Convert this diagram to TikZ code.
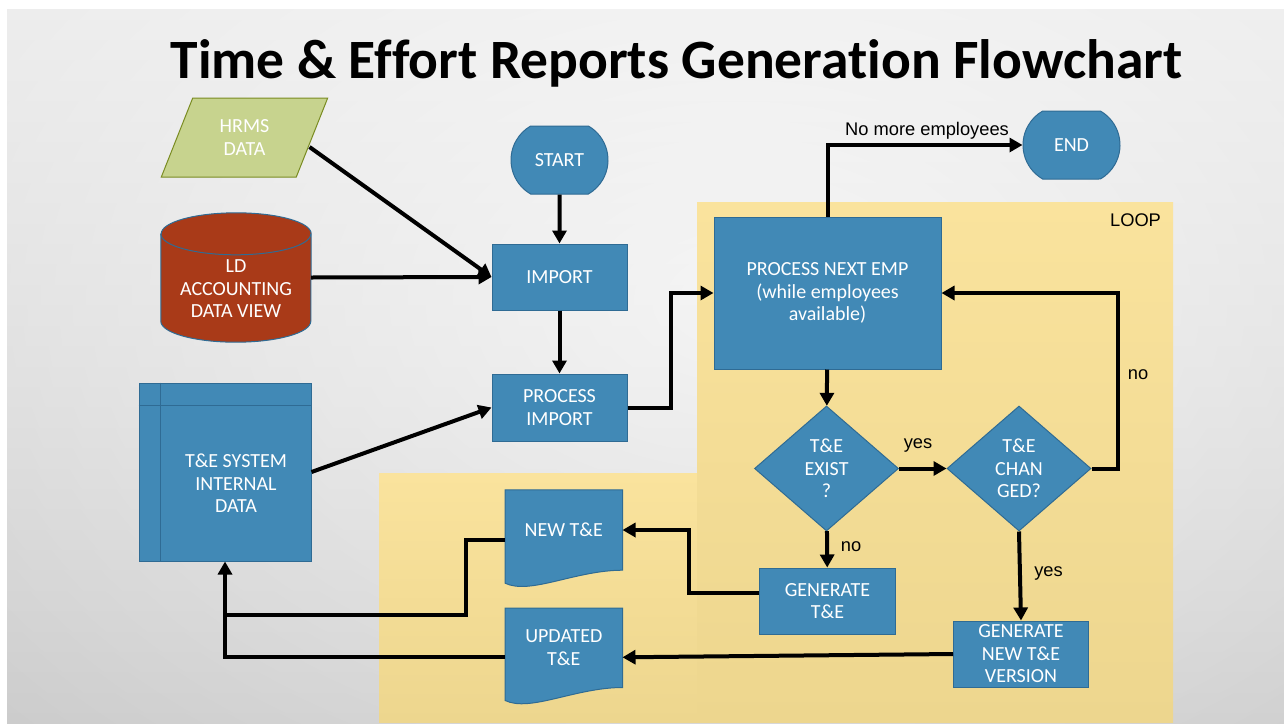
\documentclass[tikz,border=0pt]{standalone}
\usepackage{fontspec}
\setmainfont{Carlito}[Ligatures=NoCommon]
\newfontfamily\arialfont{Liberation Sans}
\usepackage{xcolor}
\usetikzlibrary{shapes.geometric,shapes.misc,arrows.meta,calc,fadings}

\definecolor{teblue}{RGB}{65,137,182}
\definecolor{teline}{RGB}{47,107,148}
\definecolor{hrmsfill}{RGB}{199,211,142}
\definecolor{hrmsline}{RGB}{122,140,34}
\definecolor{ldrust}{RGB}{169,58,24}
\definecolor{loopA}{RGB}{250,227,157}
\definecolor{loopB}{RGB}{237,214,142}
\definecolor{bgtop}{RGB}{233,233,233}
\definecolor{bgbottom}{RGB}{198,198,198}

\tikzfading[name=glow, inner color=transparent!0, outer color=transparent!100]

\newcommand{\drum}[1]{\filldraw[fill=ldrust,draw=teline,line width=1pt]
  ($(#1.north west)+(0,21)$) -- ($(#1.south west)+(0,-21)$)
  arc[start angle=180,end angle=0,x radius=75,y radius=21]
  -- ($(#1.north east)+(0,21)$)
  arc[start angle=0,end angle=-180,x radius=75,y radius=21] -- cycle;
  \draw[teline,line width=1pt] ($(#1.north west)+(0,21)$)
  arc[start angle=180,end angle=0,x radius=75,y radius=21]}
\newcommand{\docpage}[1]{\filldraw[fill=teblue,draw=teline,line width=1pt]
  (#1.north west) -- (#1.north east) -- (#1.south east)
  .. controls +(-47,0) and +(25,12) .. ($(#1.south west)+(0,13)$) -- cycle}
\newcommand{\ledger}[1]{\draw[teline,line width=1pt]
  ($(#1.north west)+(22,0)$) -- ($(#1.south west)+(22,0)$)
  ($(#1.north west)+(0,23)$) -- ($(#1.north east)+(0,23)$)}

\begin{document}
\begin{tikzpicture}[x=1pt,y=-1pt,
    box/.style={rectangle,fill=teblue,draw=teline,line width=1pt,text=white,align=center,
      inner sep=0pt,font=\fontsize{20}{22.5}\selectfont},
    plain/.style={box,fill=none,draw=none},
    terminal/.style={box,rounded rectangle,rounded rectangle arc length=120,
      minimum width=97pt,minimum height=68pt},
    decision/.style={box,diamond,minimum width=144pt,minimum height=125pt},
    datain/.style={box,trapezium,trapezium left angle=67,trapezium right angle=113,
      trapezium stretches=true,fill=hrmsfill,draw=hrmsline,minimum width=167pt,minimum height=79pt},
    conn/.style={line width=4pt,-{Triangle[length=13pt,width=14pt]}},
    wire/.style={line width=4pt},
    lbl/.style={font=\arialfont\fontsize{18.3}{20}\selectfont,inner sep=0pt}]
  \useasboundingbox (0,0) rectangle (1284,723);
  \fill[white] (0,0) rectangle (1284,723);
  \shade[top color=bgtop,bottom color=bgbottom] (7,9) rectangle (1284,723);
  \fill[white,opacity=.7,path fading=glow] (740,300) ellipse (1150 and 760);

  \shade[top color=loopA,bottom color=loopB] (697,202) rectangle (1173,722);
  \shade[top color=loopA,bottom color=loopB] (379,473) rectangle (697,722);
  \node[lbl] (loop) at (1135.5,220) {LOOP};

  \node[anchor=base,font=\bfseries\fontsize{55.5}{60}\selectfont] (title) at (676.5,78)
    {Time \& Effort Reports Generation Flowchart};

  \node[datain] (hrms) at (244.5,137.5) {HRMS\\DATA};

  \node[minimum width=150pt,minimum height=129pt,inner sep=0pt] (ld) at (236,277.5) {};
  \drum{ld};
  \node[plain] (ldtext) at (236,289) {LD\\ACCOUNTING\\DATA VIEW};

  \node[box,minimum width=172pt,minimum height=178pt] (tsi) at (225,472) {};
  \ledger{tsi};
  \node[plain] (tsitext) at (236,483.5) {T\&E SYSTEM\\INTERNAL\\DATA};

  \node[terminal] (start) at (559.5,160) {START};
  \node[box,minimum width=135pt,minimum height=66pt] (import) at (559.5,277) {IMPORT};
  \node[box,minimum width=135pt,minimum height=67pt] (pimport) at (559.5,407.5) {PROCESS\\IMPORT};
  \node[box,minimum width=227pt,minimum height=152pt] (pne) at (827.5,293)
    {PROCESS NEXT EMP\\(while employees\\available)};
  \node[terminal] (stop) at (1071.5,145) {END};
  \node[decision] (exist) at (826.5,468.5) {T\&E\\EXIST\\?};
  \node[decision] (changed) at (1019,468.5) {T\&E\\CHAN\\GED?};
  \node[box,minimum width=136pt,minimum height=66pt] (gen) at (827.5,601) {GENERATE\\T\&E};
  \node[box,minimum width=135pt,minimum height=66pt] (genver) at (1021,654) {GENERATE\\NEW T\&E\\VERSION};

  \node[minimum width=117pt,minimum height=80pt,inner sep=0pt] (newte) at (563.8,530) {};
  \docpage{newte};
  \node[plain] (newtetext) at (newte) {NEW T\&E};
  \node[minimum width=117pt,minimum height=79pt,inner sep=0pt] (updte) at (563.8,647.8) {};
  \docpage{updte};
  \node[plain] (updtetext) at (updte) {UPDATED\\T\&E};

  \draw[conn] (start) -- (import);
  \draw[conn] (import) -- (pimport);
  \draw[conn] ([xshift=-3pt,yshift=-9.5pt]hrms.east) -- (import.west);
  \draw[conn] (ld.east) -- (import.west);
  \draw[conn] (tsi.east) -- (pimport.west);
  \draw[conn] (pimport.east) -- ++(43.5,0) |- (pne.west);
  \draw[conn] (pne.north) |- (stop.west);
  \node[lbl] (nomore) at (927,131) {No more employees};
  \draw[conn] (pne) -- (exist);
  \draw[conn] (exist) -- (changed);
  \node[lbl] (yes1) at (918,445) {yes};
  \draw[conn] (changed.east) -- ++(26,0) |- (pne.east);
  \node[lbl] (no2) at (1138,375) {no};
  \draw[conn] (exist) -- (gen);
  \node[lbl] (no1) at (851,547) {no};
  \draw[conn] (changed.south) -- (genver.north);
  \node[lbl] (yes2) at (1048.5,573) {yes};
  \draw[conn] ([yshift=8pt]gen.west) -- ++(-70,0) |- (newte.east);
  \draw[conn] (genver.west) -- ([yshift=-9.5pt]updte.east);
  \draw[wire] ([yshift=-10pt]newte.west) -- ++(-39,0) |- ($(tsi.south)+(0,53)$);
  \draw[conn] ([yshift=-9.5pt]updte.west) -| (tsi.south);
\end{tikzpicture}
\end{document}
